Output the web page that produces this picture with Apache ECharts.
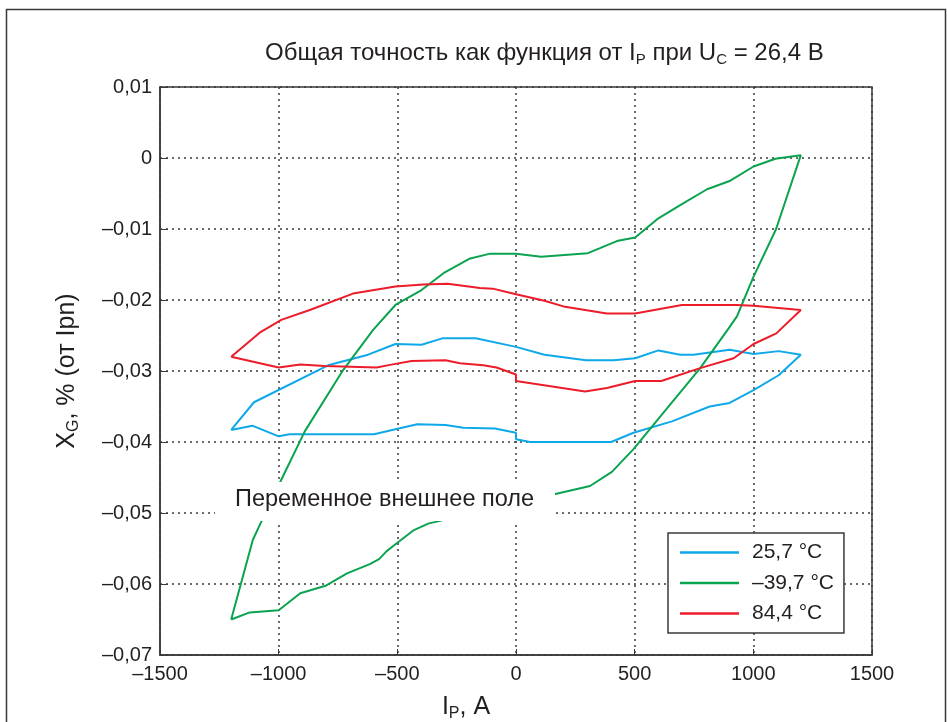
<!DOCTYPE html>
<html>
<head>
<meta charset="utf-8">
<title>Общая точность</title>
<script src="https://cdn.jsdelivr.net/npm/echarts@6/dist/echarts.min.js"></script>
<style>
    html, body { margin: 0; padding: 0; background: #fff; }
    #chart { width: 947px; height: 722px; }
</style>
</head>
<body>
<div id="chart"></div>
<script>
    // значения: [Ip, A ; Xg, %]
    var seriesNames = ['25,7 °C', '–39,7 °C', '84,4 °C'];
    var xTicks = [-1500, -1000, -500, 0, 500, 1000, 1500];
    var yTicks = [0.01, 0, -0.01, -0.02, -0.03, -0.04, -0.05, -0.06, -0.07];

    var curve257 = [
        [-1200, -0.0383], [-1104, -0.0344], [-792, -0.0292], [-623, -0.0277], [-508, -0.0262],
        [-398, -0.0263], [-311, -0.0254], [-170, -0.0254], [0, -0.0266], [120, -0.0277],
        [295, -0.0285], [411, -0.0285], [502, -0.0282], [600, -0.0271], [692, -0.0277],
        [748, -0.0277], [900, -0.0270], [1001, -0.0276], [1107, -0.0272], [1200, -0.0277],
        [1107, -0.0306], [1001, -0.0327], [900, -0.0345], [816, -0.0350], [657, -0.0371],
        [495, -0.0387], [401, -0.0400], [59, -0.0400], [0, -0.0396], [0, -0.0387],
        [-89, -0.0381], [-222, -0.0380], [-297, -0.0376], [-416, -0.0375], [-508, -0.0382],
        [-598, -0.0389], [-954, -0.0389], [-961, -0.0391], [-1000, -0.0392], [-1111, -0.0377],
        [-1200, -0.0383]
    ];

    var curveM397 = [
        [-1200, -0.0650], [-1109, -0.0538], [-1077, -0.0515], [-993, -0.0456], [-890, -0.0385],
        [-729, -0.0299], [-602, -0.0242], [-508, -0.0207], [-398, -0.0186], [-300, -0.0161],
        [-197, -0.0142], [-113, -0.0135], [0, -0.0135], [106, -0.0139], [303, -0.0134],
        [354, -0.0127], [425, -0.0117], [502, -0.0112], [600, -0.0085], [699, -0.0065],
        [805, -0.0044], [903, -0.0032], [1001, -0.0012], [1093, -0.0001], [1200, 0.0004],
        [1096, -0.0100], [1001, -0.0167], [931, -0.0223], [896, -0.0240], [776, -0.0296],
        [579, -0.0376], [495, -0.0410], [404, -0.0442], [312, -0.0462], [157, -0.0474],
        [-370, -0.0515], [-430, -0.0524], [-508, -0.0544], [-546, -0.0554], [-577, -0.0565],
        [-616, -0.0572], [-712, -0.0585], [-799, -0.0602], [-909, -0.0613], [-1000, -0.0637],
        [-1122, -0.0640], [-1200, -0.0650]
    ];

    var curve844 = [
        [-1200, -0.0280], [-1080, -0.0246], [-989, -0.0228], [-869, -0.0214], [-687, -0.0191],
        [-508, -0.0181], [-391, -0.0178], [-288, -0.0177], [-152, -0.0183], [-98, -0.0184],
        [0, -0.0192], [120, -0.0201], [200, -0.0209], [383, -0.0219], [502, -0.0219],
        [699, -0.0207], [931, -0.0207], [1001, -0.0208], [1200, -0.0214],
        [1097, -0.0247], [1001, -0.0262], [917, -0.0282], [776, -0.0296], [612, -0.0314],
        [502, -0.0314], [383, -0.0324], [291, -0.0329], [0, -0.0314], [0, -0.0305],
        [-82, -0.0295], [-138, -0.0292], [-236, -0.0289], [-297, -0.0285], [-440, -0.0286],
        [-525, -0.0291], [-588, -0.0295], [-806, -0.0293], [-909, -0.0291], [-1000, -0.0295],
        [-1200, -0.0280]
    ];

    var colors = ['#0fa8e8', '#0aa34f', '#ec1c2a'];
    var font = '"Liberation Sans", Arial, sans-serif';
    var ink = '#231f20';

    function fmtX(v) {
        return v < 0 ? '–' + Math.abs(v) : String(v);
    }
    function fmtY(v) {
        if (Math.abs(v) < 1e-9) return '0';
        return (v < 0 ? '–' : '') + Math.abs(v).toFixed(2).replace('.', ',');
    }
    // обычный текст + нижний индекс
    function subRich(size) {
        return {
            a: {fontSize: size, fontFamily: font, fontWeight: 'normal', color: ink},
            s: {fontSize: Math.round(size * 0.62), fontFamily: font, fontWeight: 'normal', color: ink,
                padding: [Math.round(size * 0.55), 0, 0, 0]}
        };
    }

    var gridDash = {color: '#3a3a3a', width: 1.5, type: [2, 4]};

    var myChart = echarts.init(document.getElementById('chart'));
    var option = {
        animation: false,
        color: colors,
        textStyle: {fontFamily: font, color: ink},
        title: {
            left: 260,
            top: 34,
            text: '{a|Общая точность как функция от I}{s|P}{a| при U}{s|C}{a| = 26,4 В}',
            textStyle: {fontWeight: 'normal', rich: subRich(24)}
        },
        legend: {
            orient: 'vertical',
            left: 668,
            top: 533,
            data: seriesNames,
            icon: 'rect',
            itemWidth: 59,
            itemHeight: 2.5,
            itemGap: 9.5,
            padding: [9, 10, 9, 12],
            backgroundColor: '#fff',
            borderColor: '#3a3a3a',
            borderWidth: 1.5,
            textStyle: {fontSize: 21, lineHeight: 21, color: ink, fontFamily: font, padding: [0, 0, 0, 8]}
        },
        grid: {
            left: 160,
            right: 75,
            top: 87,
            bottom: 67,
            outerBoundsMode: 'none',
            show: true,
            borderColor: '#3a3a3a',
            borderWidth: 1.5
        },
        xAxis: {
            type: 'value',
            min: -1500,
            max: 1500,
            interval: 500,
            name: '{a|I}{s|P}{a|, A}',
            nameLocation: 'middle',
            nameGap: 37,
            nameTextStyle: {padding: [0, 100, 0, 0], rich: subRich(25)},
            axisLine: {onZero: false, lineStyle: {color: '#3a3a3a', width: 1.5}},
            axisTick: {inside: true, length: 6, lineStyle: {color: '#3a3a3a'}},
            axisLabel: {formatter: fmtX, fontSize: 20, color: ink, margin: 9},
            splitLine: {show: true, lineStyle: gridDash}
        },
        yAxis: {
            type: 'value',
            min: -0.07,
            max: 0.01,
            interval: 0.01,
            name: '{a|X}{s|G}{a|, % (от Ipn)}',
            nameLocation: 'middle',
            nameRotate: 90,
            nameGap: 78,
            nameTextStyle: {rich: subRich(25)},
            axisLine: {onZero: false, lineStyle: {color: '#3a3a3a', width: 1.5}},
            axisTick: {inside: true, length: 8, lineStyle: {color: '#3a3a3a'}},
            axisLabel: {formatter: fmtY, fontSize: 20, color: ink, margin: 8},
            splitLine: {show: true, lineStyle: gridDash}
        },
        graphic: [
            {
                type: 'rect',
                left: 4,
                top: 7,
                z: -10,
                shape: {width: 939, height: 740},
                style: {fill: 'none', stroke: '#3a3a3a', lineWidth: 1.5}
            },
            {
                type: 'rect',
                left: 215,
                top: 482,
                z: 100,
                shape: {width: 340, height: 39},
                style: {fill: '#fff'}
            },
            {
                type: 'text',
                left: 235,
                top: 488,
                z: 101,
                style: {text: 'Переменное внешнее поле', font: '23.5px ' + font, fill: ink}
            }
        ],
        series: [
            {
                name: seriesNames[0],
                type: 'line',
                data: curve257,
                symbol: 'none',
                lineStyle: {width: 2}
            },
            {
                name: seriesNames[1],
                type: 'line',
                data: curveM397,
                symbol: 'none',
                lineStyle: {width: 2}
            },
            {
                name: seriesNames[2],
                type: 'line',
                data: curve844,
                symbol: 'none',
                lineStyle: {width: 2}
            }
        ]
    };
    myChart.setOption(option);
</script>
</body>
</html>
